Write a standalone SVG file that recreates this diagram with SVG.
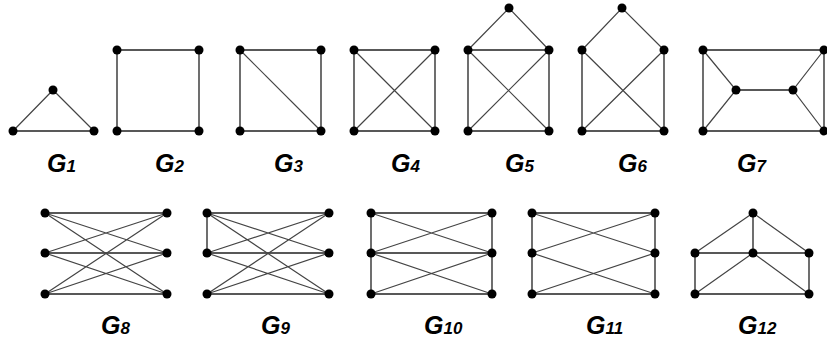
<svg xmlns="http://www.w3.org/2000/svg" width="827" height="343" viewBox="0 0 827 343">
<style>
.e{stroke:#222;stroke-width:1.3;fill:none}
.d{stroke:#444;stroke-width:1.2;fill:none}
.n{fill:#000}
.l{font-family:"Liberation Sans",Arial,sans-serif;font-weight:bold;font-style:italic;font-size:25px;fill:#000}
.s{font-size:17px}
</style>
<defs><circle id="v" r="4.5" class="n"/></defs>
<rect width="827" height="343" fill="#fff"/>
<g id="connectors">
<!-- G1 -->
<path class="d" d="M53,90L13,131M53,90L94,131"/>
<path class="e" d="M13,131H94"/>
<!-- G2 -->
<path class="e" d="M117,50H199V131H117Z"/>
<!-- G3 -->
<path class="e" d="M240,50H321V131H240Z"/>
<path class="d" d="M240,50L321,131"/>
<!-- G4 -->
<path class="e" d="M354,50H435V131H354Z"/>
<path class="d" d="M354,50L435,131M435,50L354,131"/>
<!-- G5 -->
<path class="e" d="M468,50H549V131H468Z"/>
<path class="d" d="M468,50L549,131M549,50L468,131M468,50L509,8L549,50"/>
<!-- G6 -->
<path class="e" d="M582,50V131H664V50"/>
<path class="d" d="M582,50L664,131M664,50L582,131M582,50L622,8L664,50"/>
<!-- G7 -->
<path class="e" d="M703,50H824V131H703Z M736,90H793"/>
<path class="d" d="M703,50L736,90L703,131M824,50L793,90L824,131"/>
<!-- G8 -->
<path class="e" d="M45,213H167M45,253H167M45,294H167"/>
<path class="d" d="M45,213L167,253M45,213L167,294M45,253L167,213M45,253L167,294M45,294L167,213M45,294L167,253"/>
<!-- G9 -->
<path class="e" d="M207,213H329M207,253H329M207,294H329M207,213V253"/>
<path class="d" d="M207,213L329,253M207,213L329,294M207,253L329,213M207,253L329,294M207,294L329,213M207,294L329,253"/>
<!-- G10 -->
<path class="e" d="M371,213H492M371,253H492M371,294H492M371,213V294M492,213V294"/>
<path class="d" d="M371,213L492,253M492,213L371,253M371,253L492,294M492,253L371,294"/>
<!-- G11 -->
<path class="e" d="M532,213H655M532,294H655M532,213V294M655,213V294"/>
<path class="d" d="M532,213L655,253M655,213L532,253M532,253L655,294M655,253L532,294"/>
<!-- G12 -->
<path class="e" d="M753,213V253M695,253H809M695,253V294H809V253"/>
<path class="d" d="M753,213L695,253M753,213L809,253M753,253L695,294M753,253L809,294"/>
</g>
<g id="G1"><use href="#v" x="53" y="90"/><use href="#v" x="13" y="131"/><use href="#v" x="94" y="131"/>
<text class="l" x="47" y="172">G<tspan class="s">1</tspan></text></g>
<g id="G2"><use href="#v" x="117" y="50"/><use href="#v" x="199" y="50"/><use href="#v" x="117" y="131"/><use href="#v" x="199" y="131"/>
<text class="l" x="155" y="172">G<tspan class="s">2</tspan></text></g>
<g id="G3"><use href="#v" x="240" y="50"/><use href="#v" x="321" y="50"/><use href="#v" x="240" y="131"/><use href="#v" x="321" y="131"/>
<text class="l" x="274" y="172">G<tspan class="s">3</tspan></text></g>
<g id="G4"><use href="#v" x="354" y="50"/><use href="#v" x="435" y="50"/><use href="#v" x="354" y="131"/><use href="#v" x="435" y="131"/>
<text class="l" x="391" y="172">G<tspan class="s">4</tspan></text></g>
<g id="G5"><use href="#v" x="509" y="8"/><use href="#v" x="468" y="50"/><use href="#v" x="549" y="50"/><use href="#v" x="468" y="131"/><use href="#v" x="549" y="131"/>
<text class="l" x="505" y="172">G<tspan class="s">5</tspan></text></g>
<g id="G6"><use href="#v" x="622" y="8"/><use href="#v" x="582" y="50"/><use href="#v" x="664" y="50"/><use href="#v" x="582" y="131"/><use href="#v" x="664" y="131"/>
<text class="l" x="618" y="172">G<tspan class="s">6</tspan></text></g>
<g id="G7"><use href="#v" x="703" y="50"/><use href="#v" x="824" y="50"/><use href="#v" x="703" y="131"/><use href="#v" x="824" y="131"/><use href="#v" x="736" y="90"/><use href="#v" x="793" y="90"/>
<text class="l" x="737" y="172">G<tspan class="s">7</tspan></text></g>
<g id="G8"><use href="#v" x="45" y="213"/><use href="#v" x="45" y="253"/><use href="#v" x="45" y="294"/><use href="#v" x="167" y="213"/><use href="#v" x="167" y="253"/><use href="#v" x="167" y="294"/>
<text class="l" x="101" y="334">G<tspan class="s">8</tspan></text></g>
<g id="G9"><use href="#v" x="207" y="213"/><use href="#v" x="207" y="253"/><use href="#v" x="207" y="294"/><use href="#v" x="329" y="213"/><use href="#v" x="329" y="253"/><use href="#v" x="329" y="294"/>
<text class="l" x="261" y="334">G<tspan class="s">9</tspan></text></g>
<g id="G10"><use href="#v" x="371" y="213"/><use href="#v" x="371" y="253"/><use href="#v" x="371" y="294"/><use href="#v" x="492" y="213"/><use href="#v" x="492" y="253"/><use href="#v" x="492" y="294"/>
<text class="l" x="424" y="334">G<tspan class="s">10</tspan></text></g>
<g id="G11"><use href="#v" x="532" y="213"/><use href="#v" x="532" y="253"/><use href="#v" x="532" y="294"/><use href="#v" x="655" y="213"/><use href="#v" x="655" y="253"/><use href="#v" x="655" y="294"/>
<text class="l" x="586" y="334">G<tspan class="s">11</tspan></text></g>
<g id="G12"><use href="#v" x="753" y="213"/><use href="#v" x="695" y="253"/><use href="#v" x="753" y="253"/><use href="#v" x="809" y="253"/><use href="#v" x="695" y="294"/><use href="#v" x="809" y="294"/>
<text class="l" x="738" y="334">G<tspan class="s">12</tspan></text></g>
</svg>
